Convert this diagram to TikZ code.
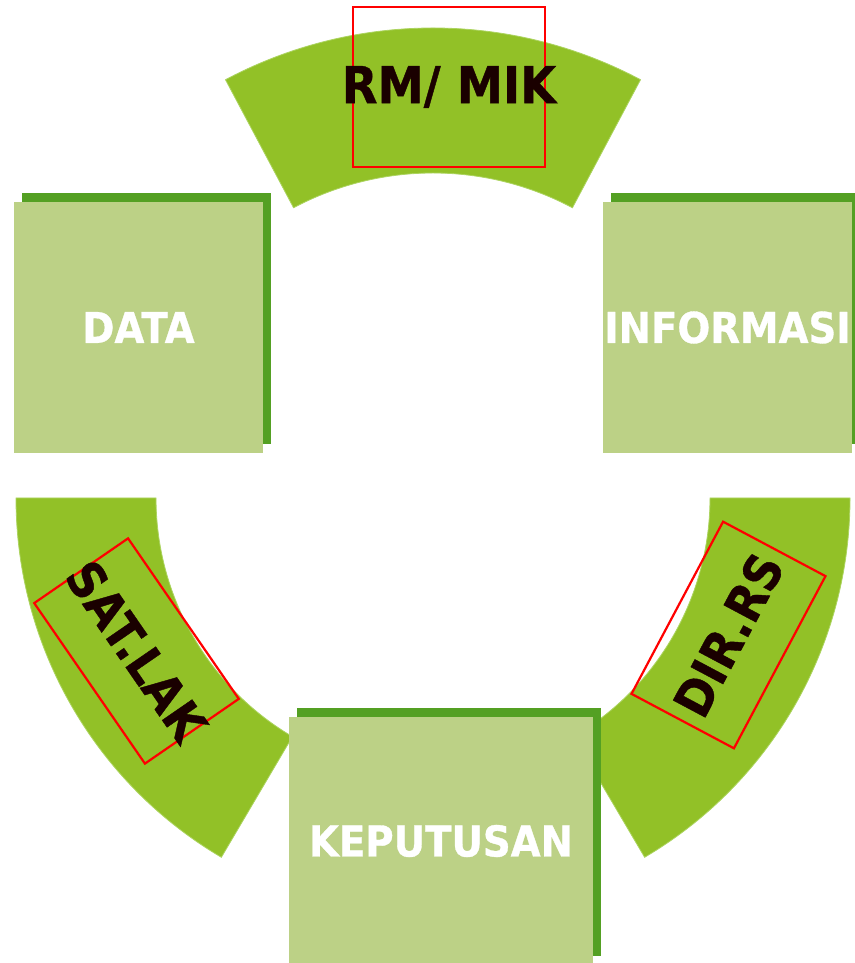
\documentclass[tikz,border=0pt]{standalone}
\usepackage{fontspec}
\usepackage{tikz}
\usetikzlibrary{shadows}
\newfontfamily\lblfont{DejaVu Sans}[FakeStretch=0.91, FakeBold=0.8]
\definecolor{ringgreen}{RGB}{146,193,39}
\definecolor{ringedge}{RGB}{172,212,96}
\definecolor{boxgreen}{RGB}{188,209,134}
\definecolor{shadegreen}{RGB}{84,160,35}
\definecolor{lbldark}{RGB}{26,0,0}
\tikzset{seg/.style={fill=ringgreen, draw=ringedge, line width=.8pt}}
\tikzset{blok/.style={fill=boxgreen, inner sep=0pt, text=white,
  font=\lblfont\bfseries\fontsize{42.5}{50}\selectfont,
  drop shadow={shadow xshift=8pt, shadow yshift=8.5pt, opacity=1, fill=shadegreen}}}
\tikzset{tag/.style={draw=red, line width=2.2pt, inner sep=0pt, text=lbldark,
  font=\lblfont\bfseries\fontsize{50}{60}\selectfont}}

\begin{document}
\begin{tikzpicture}[x=1pt,y=1pt]
  \useasboundingbox (0,0) rectangle (854,963);

  % ring pieces
  \begin{scope}[shift={(433,493)}]
    \draw[seg] (62:442) arc[start angle=62, end angle=118, radius=442]
      -- (118:297) arc[start angle=118, end angle=62, radius=297] -- cycle;
  \end{scope}
  \begin{scope}[shift={(433,465)}]
    \draw[seg] (180:417) arc[start angle=180, end angle=239.5, radius=417]
      -- (239.5:277) arc[start angle=239.5, end angle=180, radius=277] -- cycle;
    \draw[seg] (300.5:417) arc[start angle=300.5, end angle=360, radius=417]
      -- (0:277) arc[start angle=360, end angle=300.5, radius=277] -- cycle;
  \end{scope}

  % boxes
  \node[blok, minimum width=249pt, minimum height=251pt] (data) at (138.5,635.5) {DATA};
  \node[blok, minimum width=249pt, minimum height=251pt] (informasi) at (727.5,635.5) {INFORMASI};
  \node[blok, minimum width=304pt, minimum height=248pt] (keputusan) at (441,122) {KEPUTUSAN};

  % labels on the ring
  \node[tag, minimum width=192pt, minimum height=160pt,
    font=\lblfont\bfseries\fontsize{51}{60}\selectfont] (rmmik) at (449,876) {\makebox[0pt]{\raisebox{-3pt}{RM/ MIK}}};
  \node[tag, rotate=-55.4, minimum width=195pt, minimum height=114pt] (satlak) at (136.5,312) {\makebox[0pt]{SAT.LAK}};
  \node[tag, rotate=62, minimum width=195pt, minimum height=116pt] (dirrs) at (728.5,328) {\makebox[0pt]{DIR.RS}};
\end{tikzpicture}
\end{document}
